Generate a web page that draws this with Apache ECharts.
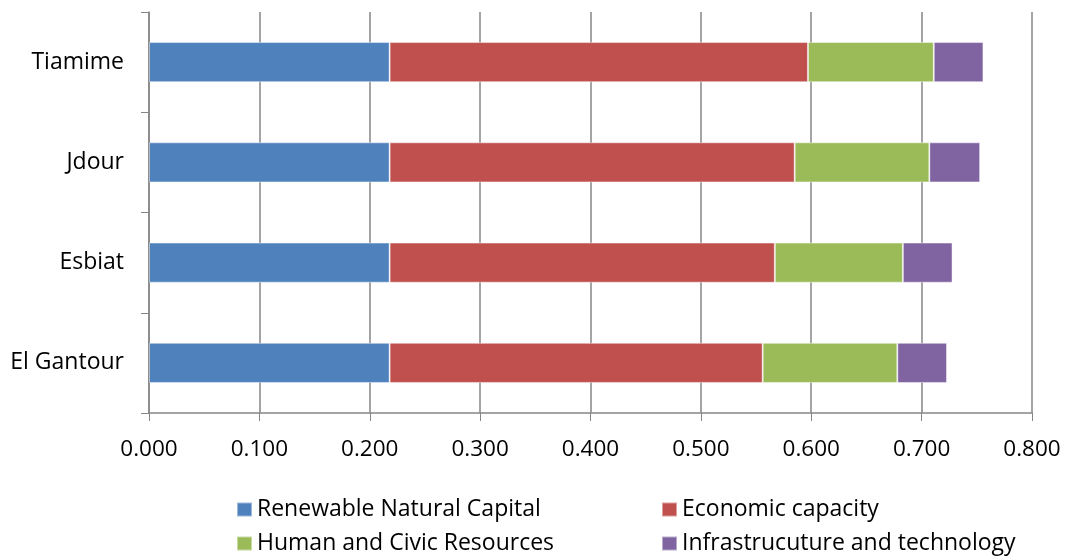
<!DOCTYPE html>
<html>
<head>
<meta charset="utf-8">
<script src="https://cdn.jsdelivr.net/npm/echarts@6/dist/echarts.min.js"></script>
<style>
  html, body { margin: 0; padding: 0; background: #fff; }
  #chart { width: 1070px; height: 557px; }
</style>
</head>
<body>
<div id="chart"></div>
<script>
// Sites, bottom to top
const sites = ['El Gantour', 'Esbiat', 'Jdour', 'Tiamime'];

// Component scores per site (stacked)
const renewableNaturalCapital = [0.218, 0.218, 0.218, 0.218];
const economicCapacity       = [0.338, 0.349, 0.367, 0.379];
const humanCivicResources    = [0.122, 0.116, 0.122, 0.114];
const infrastructureTech     = [0.045, 0.045, 0.046, 0.045];

const seriesNames = [
  'Renewable Natural Capital',
  'Economic capacity',
  'Human and Civic Resources',
  'Infrastrucuture and technology'
];
const seriesColors = ['#4F81BD', '#C0504D', '#9BBB59', '#8064A2'];
const seriesValues = [renewableNaturalCapital, economicCapacity, humanCivicResources, infrastructureTech];

const font = '"Open Sans", Lato, sans-serif';
const gridColor = '#868686';

const chart = echarts.init(document.getElementById('chart'), null, { renderer: 'canvas' });

// legend entries laid out in a 2 x 2 block
const legendPos = [
  { left: 236, top: 498 },
  { left: 661, top: 498 },
  { left: 236, top: 532 },
  { left: 661, top: 532 }
];

chart.setOption({
  animation: false,
  backgroundColor: '#fff',
  grid: { left: 149, right: 38, top: 12, bottom: 144, containLabel: false },
  xAxis: {
    type: 'value',
    min: 0,
    max: 0.8,
    interval: 0.1,
    axisLine: { show: true, lineStyle: { color: gridColor, width: 1.5 } },
    axisTick: { show: true, length: 8, lineStyle: { color: gridColor } },
    splitLine: { show: true, lineStyle: { color: gridColor, width: 1.5 } },
    axisLabel: {
      color: '#000',
      fontFamily: font,
      fontSize: 22.5,
      margin: 25,
      formatter: v => v.toFixed(3)
    }
  },
  yAxis: {
    type: 'category',
    data: sites,
    axisLine: { show: true, lineStyle: { color: gridColor, width: 1.5 } },
    axisTick: { show: true, length: 8, lineStyle: { color: gridColor } },
    axisLabel: { color: '#000', fontFamily: font, fontSize: 23, margin: 25, padding: [3, 0, 0, 0] }
  },
  legend: seriesNames.map((name, i) => ({
    data: [name],
    left: legendPos[i].left,
    top: legendPos[i].top,
    padding: 0,
    itemWidth: 15,
    itemHeight: 14,
    icon: 'rect',
    itemGap: 10,
    textStyle: { color: '#000', fontFamily: font, fontSize: 23, lineHeight: 22 }
  })),
  series: seriesNames.map((name, i) => ({
    name,
    type: 'bar',
    stack: 'total',
    barWidth: '40%',
    itemStyle: {
      color: seriesColors[i],
      borderColor: 'rgba(255,255,255,0.45)',
      borderWidth: 1
    },
    data: seriesValues[i]
  }))
});
</script>
</body>
</html>
